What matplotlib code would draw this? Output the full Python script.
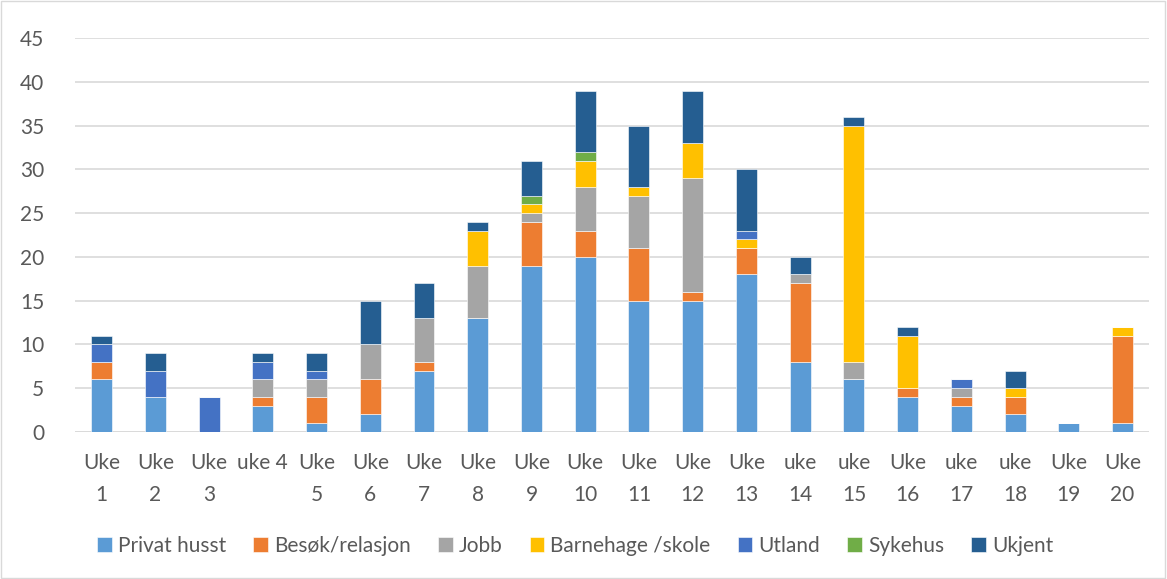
import matplotlib.pyplot as plt
import numpy as np

plt.rcParams['font.family'] = ['Lato', 'DejaVu Sans']

# uker
uker = ["Uke\n1", "Uke\n2", "Uke\n3", "uke 4", "Uke\n5", "Uke\n6", "Uke\n7", "Uke\n8", "Uke\n9", "Uke\n10",
        "Uke\n11", "Uke\n12", "Uke\n13", "uke\n14", "uke\n15", "Uke\n16", "uke\n17", "uke\n18", "Uke\n19", "Uke\n20"]

privat    = [6, 4, 0, 3, 1, 2, 7, 13, 19, 20, 15, 15, 18, 8, 6, 4, 3, 2, 1, 1]
besok     = [2, 0, 0, 1, 3, 4, 1, 0, 5, 3, 6, 1, 3, 9, 0, 1, 1, 2, 0, 10]
jobb      = [0, 0, 0, 2, 2, 4, 5, 6, 1, 5, 6, 13, 0, 1, 2, 0, 1, 0, 0, 0]
barnehage = [0, 0, 0, 0, 0, 0, 0, 4, 1, 3, 1, 4, 1, 0, 27, 6, 0, 1, 0, 1]
utland    = [2, 3, 4, 2, 1, 0, 0, 0, 0, 0, 0, 0, 1, 0, 0, 0, 1, 0, 0, 0]
sykehus   = [0, 0, 0, 0, 0, 0, 0, 0, 1, 1, 0, 0, 0, 0, 0, 0, 0, 0, 0, 0]
ukjent    = [1, 2, 0, 1, 2, 5, 4, 1, 4, 7, 7, 6, 7, 2, 1, 1, 0, 2, 0, 0]

serier = [("Privat husst", privat, "#5B9BD5"),
          ("Besøk/relasjon", besok, "#ED7D31"),
          ("Jobb", jobb, "#A5A5A5"),
          ("Barnehage /skole", barnehage, "#FFC000"),
          ("Utland", utland, "#4472C4"),
          ("Sykehus", sykehus, "#70AD47"),
          ("Ukjent", ukjent, "#255E91")]

fig = plt.figure(figsize=(11.67, 5.79), dpi=100)
ax = fig.add_axes([0.064, 0.254, 0.921, 0.68])

x = np.arange(len(uker))
bunn = np.zeros(len(uker))
for navn, verdier, farge in serier:
    v = np.array(verdier, dtype=float)
    ax.bar(x, v, 0.39, bottom=bunn, color=farge, label=navn, edgecolor='white', linewidth=0.4, zorder=3)
    bunn += v

ax.set_xlim(-0.5, len(uker) - 0.5)
ax.set_ylim(0, 45)
ax.set_yticks(range(0, 46, 5))
ax.yaxis.grid(True, color='#D9D9D9', linewidth=1.2, zorder=0)
for s in ax.spines.values():
    s.set_visible(False)
ax.axhline(0, color='#D9D9D9', linewidth=1.2, zorder=1)
ax.set_xticks(x)
ax.set_xticklabels(uker, linespacing=1.75)
ax.tick_params(axis='both', length=0, labelsize=15, labelcolor='#595959')
ax.tick_params(axis='x', pad=15)
ax.tick_params(axis='y', pad=22)

fig.legend(loc='center', bbox_to_anchor=(0.493, 0.057), ncol=7, frameon=False, fontsize=15,
           labelcolor='#595959', handlelength=0.7, handleheight=0.7, handletextpad=0.3, columnspacing=1.3)

# ramme rundt figuren
fig.patches.append(plt.Rectangle((0.001, 0.002), 0.997, 0.996, transform=fig.transFigure,
                                 fill=False, edgecolor='#D9D9D9', linewidth=1))

fig.savefig("out.png", dpi=100)
